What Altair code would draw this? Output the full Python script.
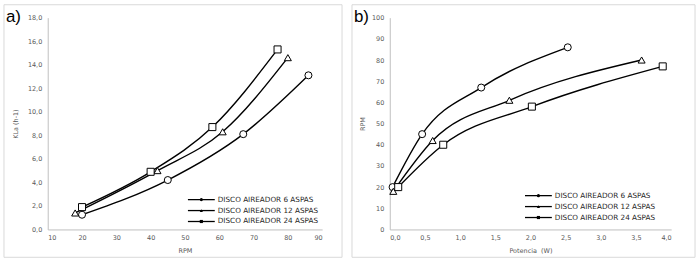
import altair as alt
import pandas as pd

SERIES = ["DISCO AIREADOR 6 ASPAS", "DISCO AIREADOR 12 ASPAS", "DISCO AIREADOR 24 ASPAS"]
SHAPES = ["circle", "triangle-up", "square"]

RPM_6 = [20, 45, 67, 86]
KLA_6 = [1.25, 4.2, 8.1, 13.1]
POT_6 = [0.04, 0.46, 1.30, 2.53]

RPM_12 = [18, 42, 61, 80]
KLA_12 = [1.4, 5.0, 8.3, 14.6]
POT_12 = [0.05, 0.61, 1.70, 3.58]

RPM_24 = [20, 40, 58, 77]
KLA_24 = [1.9, 4.9, 8.7, 15.3]
POT_24 = [0.12, 0.76, 2.02, 3.88]

rows = []
for s, rpm, kla, pot in zip(SERIES, [RPM_6, RPM_12, RPM_24], [KLA_6, KLA_12, KLA_24], [POT_6, POT_12, POT_24]):
    for i, (r, k, p) in enumerate(zip(rpm, kla, pot)):
        rows.append({"series": s, "rpm": r, "kla": k, "pot": p, "ord": i})
df = pd.DataFrame(rows)

FONT = "DejaVu Sans"
GREY = "#595959"
shape_scale = alt.Scale(domain=SERIES, range=SHAPES)


def comma_expr(dec):
    if dec == 0:
        return "format(datum.value, 'd')"
    return "replace(format(datum.value, '.%df'), '.', ',')" % dec


def axis(values, dec, title_pad, label_pad):
    return alt.Axis(values=values, labelExpr=comma_expr(dec), grid=False, ticks=False,
                    domainColor="#bfbfbf", labelColor=GREY, labelFont=FONT, labelFontSize=6.5,
                    titleFont=FONT, titleFontSize=6.5, titleColor=GREY, titleFontWeight="normal",
                    labelPadding=label_pad, titlePadding=title_pad)


def panel(xf, yf, xdom, xvals, xdec, ydom, yvals, ydec, xtitle, ytitle, w, h,
          frame, tag, leg_x, leg_y, ytitle_pad):
    X = alt.X(f"{xf}:Q", scale=alt.Scale(domain=xdom, nice=False, zero=False),
              axis=axis(xvals, xdec, 7, 5), title=xtitle)
    Y = alt.Y(f"{yf}:Q", scale=alt.Scale(domain=ydom, nice=False, zero=False),
              axis=axis(yvals, ydec, ytitle_pad, 6), title=ytitle)
    base = alt.Chart(df)
    lines = base.mark_line(interpolate="monotone", color="black", strokeWidth=1.4).encode(
        x=X, y=Y, detail="series:N", order="ord:Q")
    pts = base.mark_point(filled=True, fill="white", stroke="black", strokeWidth=1,
                          opacity=1, size=50).encode(
        x=X, y=Y, shape=alt.Shape("series:N", scale=shape_scale, legend=None))

    one = pd.DataFrame({"k": [0]})
    fx0, fx1, fy0, fy1 = frame
    box = alt.Chart(one).mark_rect(fillOpacity=0, stroke="#d9d9d9", strokeWidth=1).encode(
        x=alt.value(fx0), x2=alt.value(fx1), y=alt.value(fy0), y2=alt.value(fy1))
    lab = alt.Chart(pd.DataFrame({"t": [tag]})).mark_text(
        align="left", baseline="middle", fontSize=17, font="Liberation Sans", color="black").encode(
        x=alt.value(fx0 + 2), y=alt.value(fy0 + 12), text="t:N")

    leg = pd.DataFrame({"series": SERIES})
    leg["py"] = [leg_y + 11 * i for i in range(len(SERIES))]
    legbase = alt.Chart(leg)
    lrule = legbase.mark_rule(color="black", strokeWidth=1.3).encode(
        x=alt.value(leg_x), x2=alt.value(leg_x + 27), y=alt.Y("py:Q", scale=None))
    lpt = legbase.mark_point(filled=True, color="black", size=10, opacity=1).encode(
        x=alt.value(leg_x + 13.5), y=alt.Y("py:Q", scale=None),
        shape=alt.Shape("series:N", scale=shape_scale, legend=None))
    ltxt = legbase.mark_text(align="left", baseline="middle", font=FONT, fontSize=7.3,
                             color="#262626").encode(
        x=alt.value(leg_x + 30), y=alt.Y("py:Q", scale=None), text="series:N")

    return alt.layer(box, lines, pts, lrule, lpt, ltxt, lab).properties(width=w, height=h)


a = panel("rpm", "kla", [10, 90], list(range(10, 91, 10)), 0, [0, 18], list(range(0, 19, 2)), 1,
          "RPM", "KLa (h-1)", 276, 213, (-44, 296, -13, 241), "a)", 141, 183, 9)
b = panel("pot", "rpm", [0, 4], [i * 0.5 for i in range(9)], 1, [0, 100], list(range(0, 101, 10)), 0,
          "Potencia\u00a0\u00a0(W)", "RPM", 283, 213, (-38, 307, -13, 241), "b)", 136, 179, 6)

chart = alt.hconcat(a, b, spacing=8).configure_view(stroke=None).properties(
    padding={"left": 3, "top": 3, "right": 3, "bottom": 9}, background="white")

chart.save("out.html", embed_options={"renderer": "svg", "actions": False})
